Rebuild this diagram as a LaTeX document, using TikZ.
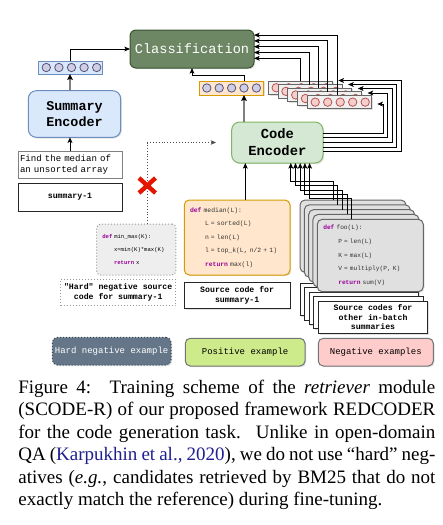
\documentclass[tikz,border=0pt]{standalone}
\usepackage{fontspec}
\setmainfont{Liberation Serif}
\setmonofont{Liberation Mono}
\usetikzlibrary{arrows.meta,calc,shadows}
\definecolor{clsf}{HTML}{6D8764}
\definecolor{clsd}{HTML}{3A5431}
\definecolor{bluef}{HTML}{DAE8FC}
\definecolor{blued}{HTML}{6C8EBF}
\definecolor{greenf}{HTML}{D5E8D4}
\definecolor{greend}{HTML}{82B366}
\definecolor{orgf}{HTML}{FFE6CC}
\definecolor{orgd}{HTML}{D79B00}
\definecolor{purf}{HTML}{D0CEE2}
\definecolor{purd}{HTML}{56517E}
\definecolor{pinkf}{HTML}{F8CECC}
\definecolor{pinkd}{HTML}{B85450}
\definecolor{embf}{HTML}{F0F0F0}
\definecolor{grd}{HTML}{666666}
\definecolor{codef}{HTML}{E0E0E0}
\definecolor{hcodef}{HTML}{EEEEEE}
\definecolor{hardf}{HTML}{647687}
\definecolor{hardd}{HTML}{314354}
\definecolor{posf}{HTML}{CDEB8B}
\definecolor{negf}{HTML}{FFCCCC}
\definecolor{legd}{HTML}{36393D}
\definecolor{kwc}{HTML}{990099}
\definecolor{xred}{HTML}{E51400}
\definecolor{citec}{HTML}{1F1F8F}
\newcommand\rdKw[1]{\textcolor{kwc}{\textbf{#1}}}
\newcommand\rdLbl{\fontsize{4.1}{4.7}\selectfont\ttfamily\bfseries}
\newcommand\rdCap{\fontsize{9.5}{11.25}\selectfont\rmfamily}
\begin{document}
\begin{tikzpicture}[x=0.5pt,y=-0.5pt,
 arr/.style={draw=black, line width=0.5pt, -{Stealth[length=2.8pt,width=2.4pt,inset=0.6pt]}},
 garr/.style={draw=gray, line width=1pt, -{Stealth[length=3pt,width=2.8pt,inset=0.6pt,color=black]}},
 dotarr/.style={draw=black!70, line width=0.45pt, densely dotted, -{Stealth[length=2.6pt,width=2.2pt,inset=0.6pt]}},
 bx/.style={draw, line width=0.5pt, inner sep=0pt, outer sep=0pt, anchor=north west, align=center},
 wh/.style 2 args={minimum width={#1*0.5pt}, minimum height={#2*0.5pt}},
 shd/.style={drop shadow={shadow xshift=0.6pt, shadow yshift=-0.6pt, opacity=0.2, fill=black!60}},
 circ/.style={circle, draw, line width=0.4pt, inner sep=0pt, minimum size=4.2pt},
]
\useasboundingbox (0,0) rectangle (443,525);

% Classification
\node[bx, wh={124}{38}, rounded corners=3pt, fill=clsf, draw=clsd, shd, text=white,
  font=\fontsize{6.8}{8}\selectfont\ttfamily] (cls) at (130,30) {Classification};

% Summary side
\node[bx, wh={64}{13}, fill=bluef, draw=blued, shd] (semb) at (38,61) {};
\foreach \i in {1,...,5}
  \node[circ, fill=purf, draw=purd] (semb-c\i) at ($(semb.west)+({-4.3+12.6*\i},0)$) {};
\node[bx, wh={92.4}{46.6}, rounded corners=4pt, fill=bluef, draw=blued, shd,
  font=\fontsize{6.7}{7.9}\selectfont\ttfamily\bfseries] (senc) at (28.3,90.7) {Summary\\Encoder};
\node[bx, wh={104}{27}, draw=gray, fill=white, text width=50pt, inner xsep=1pt, align=left,
  font=\fontsize{4.55}{5.85}\selectfont\ttfamily] (find) at (18,151) {Find the median of\\an unsorted array};
\node[bx, wh={104}{28}, draw=black!85, fill=white, shd, font=\rdLbl] (slab) at (18,183) {summary-1};

% Positive code embedding
\node[bx, wh={64}{14}, fill=orgf, draw=orgd, shd] (pemb) at (199.3,81) {};
\foreach \i in {1,...,5}
  \node[circ, fill=purf, draw=purd] (pemb-c\i) at ($(pemb.west)+({-4.9+12.4*\i},0)$) {};

% Negative code embeddings
\foreach \k in {0,...,4} {
  \node[bx, wh={64}{13.5}, fill=embf, draw=grd, shd] (nb-\k) at ({268.3+9.75*\k},{81+3.6*\k}) {};
  \foreach \i in {1,...,5}
    \node[circ, fill=pinkf, draw=pinkd] (nb-\k-c\i) at ($(nb-\k.west)+({-4.6+12.5*\i},0)$) {};
}

% Code encoder
\node[bx, wh={91.3}{41}, rounded corners=4pt, fill=greenf, draw=greend, shd,
  font=\fontsize{6.9}{8.5}\selectfont\ttfamily\bfseries] (cenc) at (231.7,122) {Code\\Encoder};

% Hard negative code
\node[bx, wh={79}{51}, rounded corners=2pt, fill=hcodef, draw=gray!80, densely dotted,
  text width=34pt, inner xsep=2.8pt, align=left,
  font=\fontsize{2.8}{6.5}\selectfont\ttfamily] (hneg) at (96.7,224)
  {\rdKw{def} min\_max(K):\\\hspace*{5.85pt}x=min(K)*max(K)\\\hspace*{5.85pt}\rdKw{return} x};
\node[bx, wh={115}{26.4}, fill=white, draw=gray!80, densely dotted,
  font=\fontsize{4.1}{5}\selectfont\ttfamily\bfseries] (hlab) at (60.7,279.3)
  {"Hard" negative source\\code for summary-1};

% Positive code
\node[bx, wh={105.7}{75}, rounded corners=2.5pt, fill=orgf, draw=orgd, shd,
  text width=47.15pt, inner xsep=2.85pt, align=left,
  font=\fontsize{3.2}{6.7}\selectfont\ttfamily\color{black!80}] (med) at (184.3,200)
  {\rdKw{def} median(L):\\\hspace*{7.5pt}L = sorted(L)\\\hspace*{7.5pt}n = len(L)\\\hspace*{7.5pt}l = top\_k(L, n/2 + 1)\\\hspace*{7.5pt}\rdKw{return} max(l)};
\node[bx, wh={105.7}{26}, fill=white, draw=black!85, shd, font=\rdLbl] (plab) at (184.3,282.3)
  {Source code for\\summary-1};

% Negative codes: labels then code boxes
\foreach \k in {0,...,3}
  \node[bx, wh={109.4}{32.3}, fill=white, draw=black!85, shd] (nl-\k) at ({300+4.58*\k},{283.3+4.43*\k}) {};
\node[bx, wh={109.4}{32.3}, fill=white, draw=black!85, shd, font=\rdLbl] (nl-4) at (318.3,301)
  {Source codes for\\other in-batch\\summaries};
\foreach \k in {0,...,3}
  \node[bx, wh={106}{72.4}, rounded corners=2.5pt, fill=codef, draw=grd, shd] (nc-\k) at ({300+4.33*\k},{200+4.83*\k}) {};
\node[bx, wh={106}{72.4}, rounded corners=2.5pt, fill=codef, draw=grd, shd,
  text width=47pt, inner xsep=3pt, align=left,
  font=\fontsize{3.1}{6.8}\selectfont\ttfamily\color{black!80}] (nc-4) at (317.3,219.3)
  {\rdKw{def} foo(L):\\\hspace*{7.5pt}P = len(L)\\\hspace*{7.5pt}K = max(L)\\\hspace*{7.5pt}V = multiply(P, K)\\\hspace*{7.5pt}\rdKw{return} sum(V)};

% Legend
\node[bx, wh={118.7}{27.7}, rounded corners=2.5pt, fill=hardf, draw=hardd, densely dotted, shd,
  text=white, font=\fontsize{4.5}{5}\selectfont\ttfamily] (lg-h) at (52.3,337.3) {Hard negative example};
\node[bx, wh={119.7}{27.7}, rounded corners=2.5pt, fill=posf, draw=legd!70, shd,
  font=\fontsize{4.5}{5}\selectfont\ttfamily] (lg-p) at (185.3,338.3) {Positive example};
\node[bx, wh={115}{27.7}, rounded corners=2.5pt, fill=negf, draw=legd!70, shd,
  font=\fontsize{4.5}{5}\selectfont\ttfamily] (lg-n) at (318.3,338.3) {Negative examples};

% Connectors: summary side
\draw[arr] (find.north) -- (find.north |- senc.south);
\draw[garr] (semb.south |- senc.north) -- (semb.south);
\draw[arr] (semb.north) |- (cls.west);

% Connectors: positive side
\draw[garr] (pemb-c4 |- cenc.north) -- (pemb-c4 |- pemb.south);
\draw[arr] (pemb-c4 |- pemb.north) -- ++(0,-6) -| (cls.south);
\path (med.north west) ++(61,0) coordinate (medin);
\draw[arr] (medin) -- (medin |- cenc.south);

% Connectors: negatives
\foreach \k in {0,...,4}
  \draw[arr] ($(nb-\k.north west)+({31.7-0.42*\k},0)$) |- ($(cls.east)+(0,{9.3-5.8*\k})$);
\foreach \k/\ty in {0/80.5,1/84.5,2/88.5,3/93,4/104}
  \draw[arr] ($(cenc.east)+(0,{9.2-4.6*\k})$) -- ++({78-4.43*\k},0) |- ($(nb-\k.north east)+(6,{\ty-81-3.6*\k})$);
\foreach \k in {0,...,4}
  \draw[arr] ($(nc-\k.north west)+({33.3+0.34*\k},0)$) -- ++(0,{-(18.3+0.68*\k)}) -| ($(cenc.south west)+({59.1+4.7*\k},0)$);

% Hard negative (not used)
\path (hneg.north west) ++(50.6,0) coordinate (hnegin);
\draw[dotarr, shorten >=7.85pt] (hnegin) |- (cenc.west);
\draw[xred, line width=2.2pt] (139,178) -- (155.5,193) (155.5,178) -- (139,193);

% Caption
\node[anchor=base west, inner sep=0pt, font=\rdCap] (cap1) at (18,393)
  {\makebox[208.5pt][s]{Figure 4:\hspace{0.25em} Training scheme of the \textit{retriever} module}};
\node[anchor=base west, inner sep=0pt, font=\rdCap] (cap2) at (18,415.5)
  {\makebox[208.5pt][s]{(SCODE-R) of our proposed framework REDCODER}};
\node[anchor=base west, inner sep=0pt, font=\rdCap] (cap3) at (18,438)
  {\makebox[208.5pt][s]{for the code generation task.\hspace{0.2em} Unlike in open-domain}};
\node[anchor=base west, inner sep=0pt, font=\rdCap] (cap4) at (18,460.5)
  {\makebox[208.5pt][s]{QA (\textcolor{citec}{Karpukhin et al., 2020}), we do not use “hard” neg-}};
\node[anchor=base west, inner sep=0pt, font=\rdCap] (cap5) at (18,483)
  {\makebox[208.5pt][s]{atives (\textit{e.g.}, candidates retrieved by BM25 that do not}};
\node[anchor=base west, inner sep=0pt, font=\rdCap] (cap6) at (18,505.5)
  {exactly match the reference) during fine-tuning.};
\end{tikzpicture}
\end{document}
